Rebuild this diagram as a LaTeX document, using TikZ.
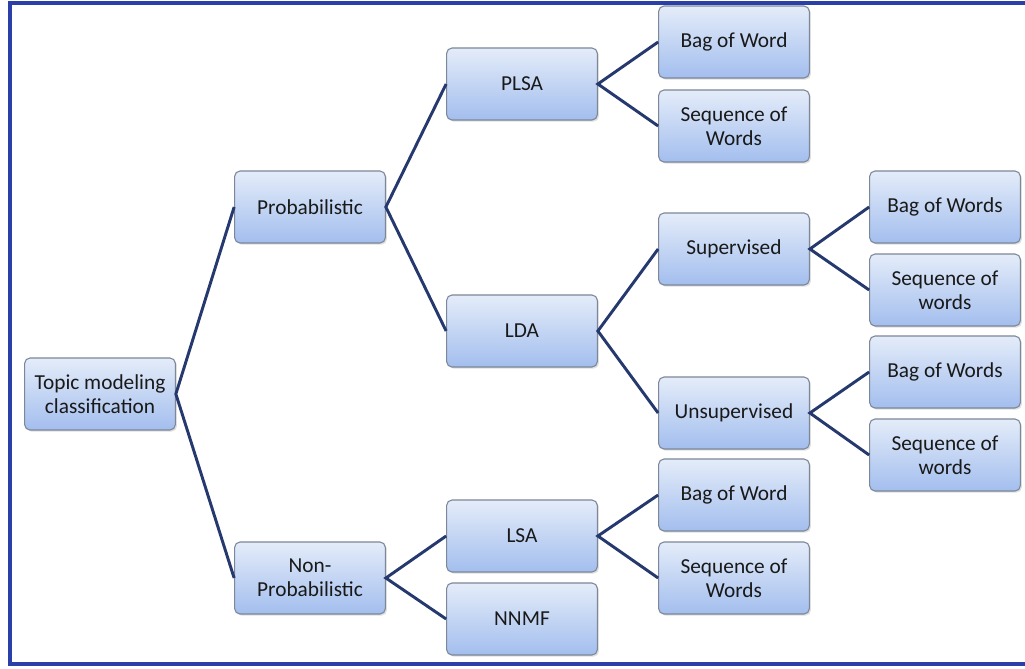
\documentclass[tikz,border=0pt]{standalone}
\usepackage{fontspec}
\setmainfont{Carlito}
\usepackage{xcolor}
\usetikzlibrary{shadows}
\definecolor{linkblue}{HTML}{26396E}
\definecolor{framblue}{HTML}{2B3FA8}
\definecolor{boxtop}{HTML}{E4ECF9}
\definecolor{boxbot}{HTML}{A3BEEE}
\definecolor{boxline}{HTML}{7C8799}

\begin{document}
\begin{tikzpicture}[x=0.75pt, y=-0.75pt,
    main/.style = {draw=boxline, line width=0.8pt, rounded corners=4pt,
      top color=boxtop, bottom color=boxbot, text=black!90,
      minimum width=113pt, minimum height=54pt, inner sep=0pt, align=center,
      font=\fontsize{16}{18}\selectfont,
      drop shadow={opacity=0.25, shadow xshift=1.2pt, shadow yshift=-1.2pt}},
    link/.style = {draw=linkblue, line width=2.2pt}]
      \useasboundingbox (0,0) rectangle (1025,668);
      \fill[white] (0,0) rectangle (1025,668);
      \draw[framblue, line width=2.4pt] (10,3) rectangle (1045,664);

      \node[main] (topic) at (100,394) {Topic modeling\\classification};
      \node[main] (prob) at (310,207) {Probabilistic};
      \node[main] (nonprob) at (310,578) {Non-\\Probabilistic};
      \node[main] (plsa) at (522,84) {PLSA};
      \node[main] (lda) at (522,331) {LDA};
      \node[main] (lsa) at (522,536) {LSA};
      \node[main] (nnmf) at (522,619) {NNMF};
      \node[main] (plsabow) at (734,42) {Bag of Word};
      \node[main] (plsaseq) at (734,126) {Sequence of\\Words};
      \node[main] (sup) at (734,249) {Supervised};
      \node[main] (unsup) at (734,413) {Unsupervised};
      \node[main] (lsabow) at (734,495) {Bag of Word};
      \node[main] (lsaseq) at (734,578) {Sequence of\\Words};
      \node[main] (supbow) at (945,207) {Bag of Words};
      \node[main] (supseq) at (945,290) {Sequence of\\words};
      \node[main] (unsupbow) at (945,372) {Bag of Words};
      \node[main] (unsupseq) at (945,455) {Sequence of\\words};

      \draw[link] (prob.west) -- (topic.east) -- (nonprob.west);
      \draw[link] (plsa.west) -- (prob.east) -- (lda.west);
      \draw[link] (lsa.west) -- (nonprob.east) -- (nnmf.west);
      \draw[link] (plsabow.west) -- (plsa.east) -- (plsaseq.west);
      \draw[link] (sup.west) -- (lda.east) -- (unsup.west);
      \draw[link] (lsabow.west) -- (lsa.east) -- (lsaseq.west);
      \draw[link] (supbow.west) -- (sup.east) -- (supseq.west);
      \draw[link] (unsupbow.west) -- (unsup.east) -- (unsupseq.west);
    \end{tikzpicture}
\end{document}
